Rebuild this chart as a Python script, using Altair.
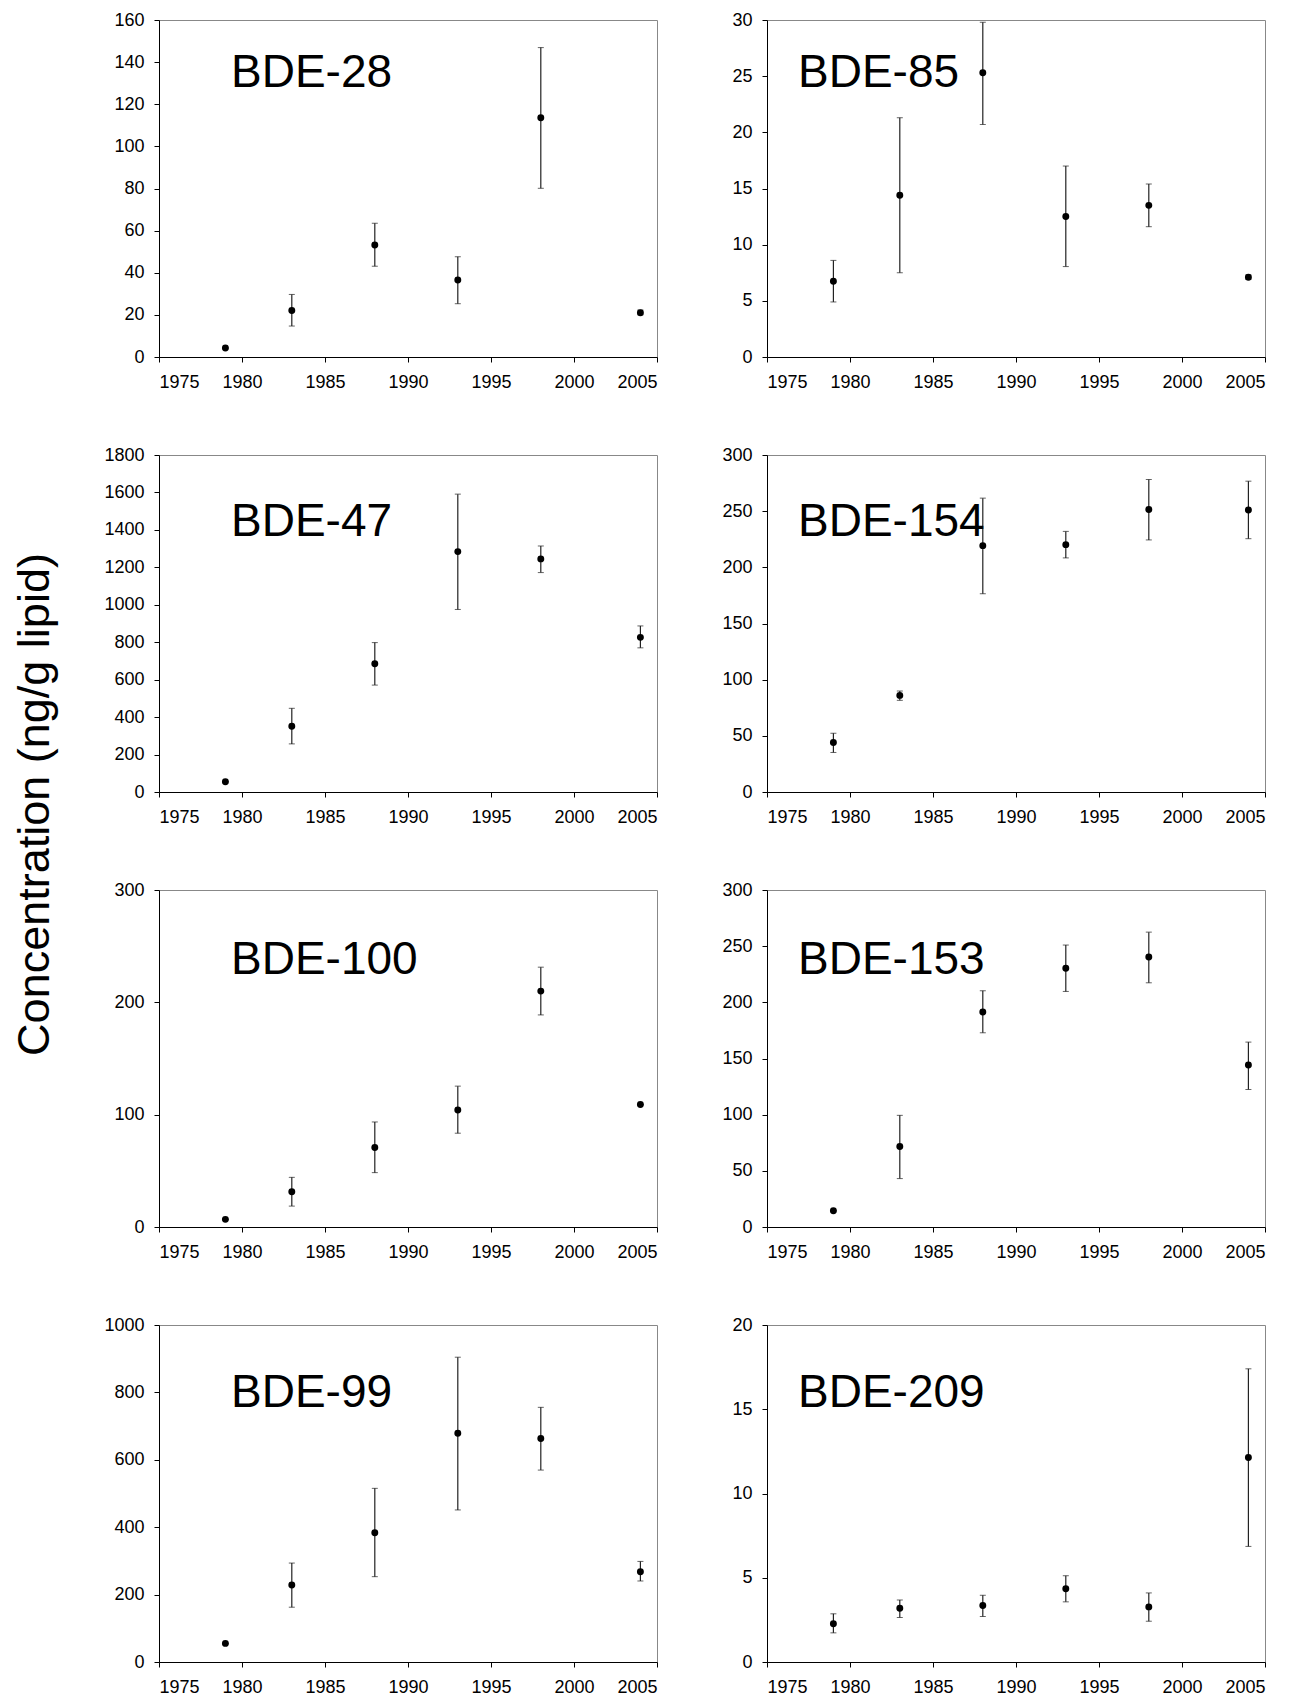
import altair as alt
import pandas as pd

years = [1979, 1983, 1988, 1993, 1998, 2004]

# (mean, lower, upper)
bde28_mean = [4.3, 22.1, 53.2, 36.6, 113.6, 21.0]
bde28_lo = [4.3, 14.7, 43.1, 25.3, 80.1, 20.0]
bde28_hi = [4.3, 29.7, 63.5, 47.6, 146.9, 22.3]

bde85_mean = [6.75, 14.4, 25.3, 12.5, 13.5, 7.1]
bde85_lo = [4.9, 7.5, 20.7, 8.05, 11.6, 6.9]
bde85_hi = [8.6, 21.3, 29.8, 17.0, 15.4, 7.3]

bde47_mean = [55, 351, 685, 1284, 1245, 826]
bde47_lo = [55, 257, 571, 975, 1172, 770]
bde47_hi = [55, 447, 798, 1591, 1314, 887]

bde154_mean = [44, 86, 219.3, 220.2, 251.5, 251]
bde154_lo = [35.2, 81.6, 176.5, 208.4, 224.4, 225.5]
bde154_hi = [52.3, 89.9, 261.6, 232, 278.2, 276.7]

bde100_mean = [6.8, 31.3, 70.8, 104.1, 210, 109.1]
bde100_lo = [6.8, 18.6, 48.4, 83.5, 188.8, 109.1]
bde100_hi = [6.8, 44.2, 93.5, 125.4, 231.3, 109.1]

bde153_mean = [14.5, 71.7, 191.4, 230.4, 240.4, 144.2]
bde153_lo = [14.5, 43.1, 172.9, 209.7, 217.4, 122.4]
bde153_hi = [14.5, 99.4, 210.3, 251, 262.5, 164.6]

bde99_mean = [55.2, 228.6, 383.3, 678.8, 663, 268]
bde99_lo = [55.2, 162.6, 253.2, 451.2, 569.5, 240.4]
bde99_hi = [55.2, 293.6, 515.3, 904.4, 755.7, 298.5]

bde209_mean = [2.27, 3.19, 3.35, 4.35, 3.27, 12.14]
bde209_lo = [1.73, 2.64, 2.70, 3.57, 2.42, 6.86]
bde209_hi = [2.86, 3.68, 3.96, 5.12, 4.10, 17.4]

x_ticks = [1975, 1980, 1985, 1990, 1995, 2000, 2005]

PW = 498
PH = 337


def panel(name, mean, lo, hi, ymax, step, lab_x, lab_y):
    df = pd.DataFrame({"year": years, "mean": mean, "lo": lo, "hi": hi})
    base = alt.Chart(df)
    xenc = alt.X(
        "year:Q",
        scale=alt.Scale(domain=[1975, 2005], nice=False, zero=False),
        axis=alt.Axis(values=x_ticks, format="d", title=None),
    )
    yticks = list(range(0, ymax + 1, step))
    yscale = alt.Scale(domain=[0, ymax], nice=False)
    yaxis = alt.Axis(values=yticks, format="d", title=None)
    bars = base.mark_rule(color="#222222", strokeWidth=1.2).encode(
        x=xenc, y=alt.Y("lo:Q", scale=yscale, axis=yaxis), y2="hi:Q"
    )
    cap_lo = base.mark_tick(orient="horizontal", size=6, thickness=1, color="#222222").encode(
        x=xenc, y=alt.Y("lo:Q", scale=yscale, axis=yaxis)
    )
    cap_hi = base.mark_tick(orient="horizontal", size=6, thickness=1, color="#222222").encode(
        x=xenc, y=alt.Y("hi:Q", scale=yscale, axis=yaxis)
    )
    pts = base.mark_circle(size=48, color="black", opacity=1).encode(
        x=xenc, y=alt.Y("mean:Q", scale=yscale, axis=yaxis)
    )
    label = alt.Chart(pd.DataFrame({"t": [name]})).mark_text(
        font="Liberation Sans", fontSize=46, align="left", baseline="middle", color="black"
    ).encode(text="t:N", x=alt.value(lab_x), y=alt.value(lab_y))
    return alt.layer(bars, cap_lo, cap_hi, pts, label).properties(width=PW, height=PH)


panels = [
    panel("BDE-28", bde28_mean, bde28_lo, bde28_hi, 160, 20, 72, 53),
    panel("BDE-85", bde85_mean, bde85_lo, bde85_hi, 30, 5, 31, 53),
    panel("BDE-47", bde47_mean, bde47_lo, bde47_hi, 1800, 200, 72, 67),
    panel("BDE-154", bde154_mean, bde154_lo, bde154_hi, 300, 50, 31, 67),
    panel("BDE-100", bde100_mean, bde100_lo, bde100_hi, 300, 100, 72, 70),
    panel("BDE-153", bde153_mean, bde153_lo, bde153_hi, 300, 50, 31, 70),
    panel("BDE-99", bde99_mean, bde99_lo, bde99_hi, 1000, 200, 72, 68),
    panel("BDE-209", bde209_mean, bde209_lo, bde209_hi, 20, 5, 31, 68),
]

chart = alt.concat(
    *panels, columns=2, spacing=alt.RowColnumber(row=98, column=110), bounds="flush"
).properties(
    title=alt.TitleParams(
        text="Concentration (ng/g lipid)",
        orient="left",
        anchor="middle",
        font="Liberation Sans",
        fontSize=45,
        fontWeight="normal",
        color="black",
        offset=45,
        dx=49,
    ),
    padding={"left": 5, "top": 2, "right": 5, "bottom": 5},
).configure_view(
    stroke="#888888", strokeWidth=1
).configure_axis(
    domainColor="black",
    domainWidth=1,
    tickColor="black",
    tickSize=5,
    labelColor="black",
    labelFont="Liberation Sans",
    labelFontSize=18,
    grid=False,
).configure_axisX(
    labelPadding=11
).configure_axisY(
    labelPadding=10
)

chart.save("out.html", embed_options={"renderer": "svg", "actions": False})
